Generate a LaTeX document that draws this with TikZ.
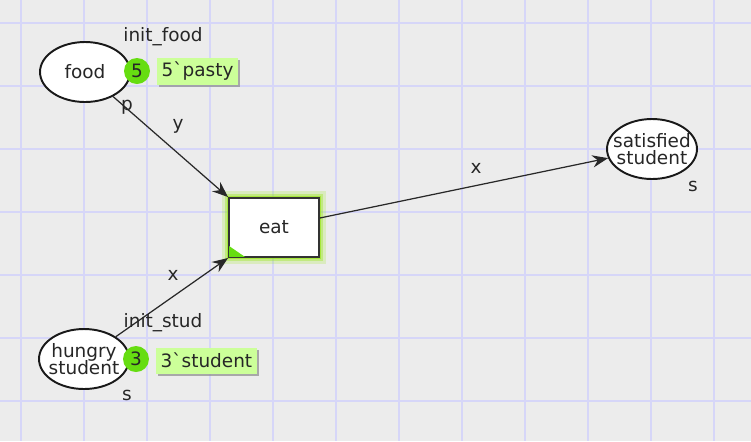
\documentclass[tikz,border=0pt]{standalone}
\usepackage{fontspec}
\setmainfont{DejaVu Sans}
\usetikzlibrary{arrows.meta,shapes.geometric,shadows}
\definecolor{GridLine}{RGB}{214,214,248}
\definecolor{SheetBack}{RGB}{236,236,236}
\definecolor{TokenFill}{RGB}{102,221,17}
\definecolor{MarkingFill}{RGB}{204,255,153}
\definecolor{ArcColor}{RGB}{40,40,40}
\colorlet{EnabledGlow}{TokenFill!70!yellow}

\begin{document}
\begin{tikzpicture}[x=0.02cm, y=-0.02cm,
    font=\fontsize{10.5}{11.5}\selectfont, text=black!85,
    place/.style={draw=black!90, line width=1.1pt, fill=white, ellipse,
        minimum width=1.8cm, minimum height=1.2cm, inner xsep=-4pt, inner ysep=0pt,
        align=center},
    transition/.style={draw=black!80, line width=1.1pt, fill=white,
        minimum width=1.8cm, minimum height=1.18cm},
    token/.style={circle, fill=TokenFill, minimum size=0.52cm, inner sep=0pt},
    marking/.style={fill=MarkingFill, anchor=west, minimum height=0.52cm, inner sep=2.5pt,
        drop shadow={shadow xshift=1.2pt, shadow yshift=-1.2pt, fill=black!45, opacity=0.7}},
    arc/.style={draw=ArcColor, line width=0.7pt,
        -{Stealth[length=9pt, width=7pt, inset=3pt]}}]

    % Fondo y cuadricula
    \useasboundingbox[fill=SheetBack] (0, 0) rectangle (751, 441);
    \foreach \i in {0,...,11}
        \draw[GridLine, line width=1pt] (21+63*\i, 0) -- ++(0, 441);
    \foreach \j in {0,...,6}
        \draw[GridLine, line width=1pt] (0, 23+63*\j) -- ++(751, 0);

    \node[place] (food) at (85, 72) {food};
    \node[place] (hungry) at (84, 359) {hungry\\[-2pt]student};
    \node[place] (satisfied) at (652, 149) {satisfied\\[-2pt]student};
    \node[transition,
        preaction={draw=EnabledGlow, line width=8pt, opacity=0.2},
        preaction={draw=EnabledGlow, line width=5pt, opacity=0.35},
        preaction={draw=EnabledGlow, line width=2.5pt, opacity=0.6}] (eat) at (274, 227.5) {eat};

    % Marca de transicion habilitada
    \fill[TokenFill] (eat.south west) ++(1, -1) -- ++(16, 0) -- ++(-16, -11) -- cycle;

    \draw[arc] (food) -- (eat.north west);
    \draw[arc] (hungry) -- (eat.south west);
    \draw[arc] (eat) -- (satisfied);

    \node[token] (foodtoken) at (137, 71) {5};
    \node[marking] (foodmarking) at (157, 71.5) {5\textasciigrave pasty};
    \node[token] (hungrytoken) at (136, 359) {3};
    \node[marking] (hungrymarking) at (156, 360.5) {3\textasciigrave student};

    \node (foodinit) at (163, 37) {init\_food};
    \node (hungryinit) at (163, 323) {init\_stud};
    \node (foodtype) at (127, 107) {p};
    \node (hungrytype) at (127, 395) {s};
    \node (satisfiedtype) at (693, 186) {s};
    \node (inscy) at (178, 126) {y};
    \node (inscx) at (173, 275) {x};
    \node (inscout) at (476, 168) {x};

\end{tikzpicture}
\end{document}
